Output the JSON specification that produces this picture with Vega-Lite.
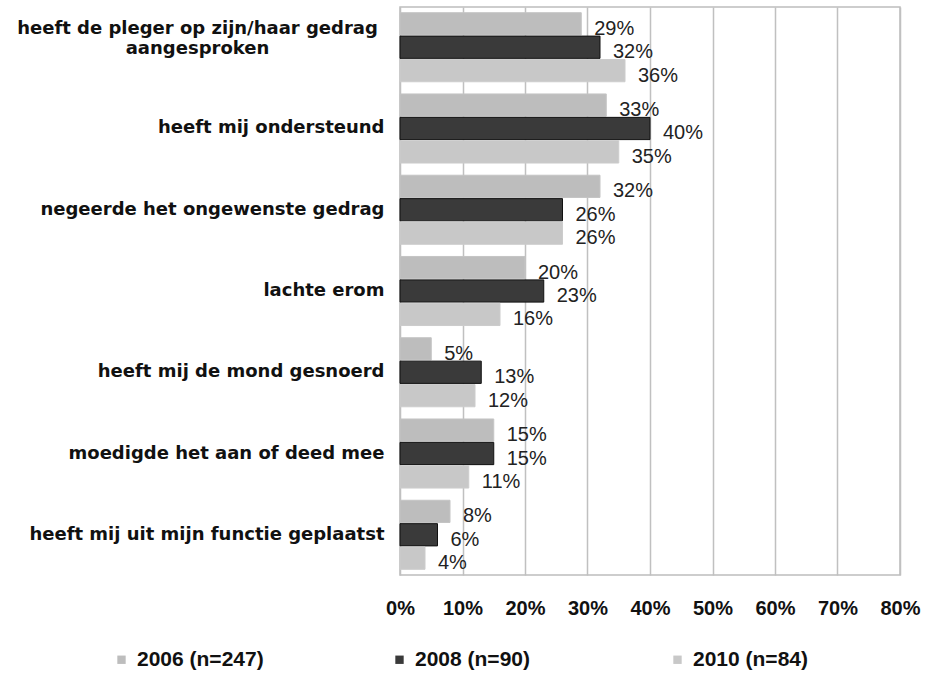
{
  "$schema": "https://vega.github.io/schema/vega-lite/v6.json",
  "autosize": "none",
  "width": 500,
  "height": 568,
  "padding": {"left": 400, "top": 7, "right": 37, "bottom": 100},
  "background": "white",
  "config": {
    "font": "Liberation Sans",
    "view": {"stroke": "#bdbdbd", "strokeWidth": 1.5}
  },
  "data": {
    "values": [
      {"item": "heeft de pleger op zijn/haar gedrag aangesproken", "series": "2006 (n=247)", "pct": 0.29},
      {"item": "heeft de pleger op zijn/haar gedrag aangesproken", "series": "2008 (n=90)", "pct": 0.32},
      {"item": "heeft de pleger op zijn/haar gedrag aangesproken", "series": "2010 (n=84)", "pct": 0.36},
      {"item": "heeft mij ondersteund", "series": "2006 (n=247)", "pct": 0.33},
      {"item": "heeft mij ondersteund", "series": "2008 (n=90)", "pct": 0.40},
      {"item": "heeft mij ondersteund", "series": "2010 (n=84)", "pct": 0.35},
      {"item": "negeerde het ongewenste gedrag", "series": "2006 (n=247)", "pct": 0.32},
      {"item": "negeerde het ongewenste gedrag", "series": "2008 (n=90)", "pct": 0.26},
      {"item": "negeerde het ongewenste gedrag", "series": "2010 (n=84)", "pct": 0.26},
      {"item": "lachte erom", "series": "2006 (n=247)", "pct": 0.20},
      {"item": "lachte erom", "series": "2008 (n=90)", "pct": 0.23},
      {"item": "lachte erom", "series": "2010 (n=84)", "pct": 0.16},
      {"item": "heeft mij de mond gesnoerd", "series": "2006 (n=247)", "pct": 0.05},
      {"item": "heeft mij de mond gesnoerd", "series": "2008 (n=90)", "pct": 0.13},
      {"item": "heeft mij de mond gesnoerd", "series": "2010 (n=84)", "pct": 0.12},
      {"item": "moedigde het aan of deed mee", "series": "2006 (n=247)", "pct": 0.15},
      {"item": "moedigde het aan of deed mee", "series": "2008 (n=90)", "pct": 0.15},
      {"item": "moedigde het aan of deed mee", "series": "2010 (n=84)", "pct": 0.11},
      {"item": "heeft mij uit mijn functie geplaatst", "series": "2006 (n=247)", "pct": 0.08},
      {"item": "heeft mij uit mijn functie geplaatst", "series": "2008 (n=90)", "pct": 0.06},
      {"item": "heeft mij uit mijn functie geplaatst", "series": "2010 (n=84)", "pct": 0.04}
    ]
  },
  "encoding": {
    "y": {
      "field": "item",
      "type": "nominal",
      "sort": null,
      "scale": {"paddingInner": 0.15, "paddingOuter": 0.07},
      "axis": {
        "title": null,
        "ticks": false,
        "domain": false,
        "labelFont": "DejaVu Sans",
        "labelFontSize": 18,
        "labelFontWeight": "bold",
        "labelColor": "#111",
        "labelLimit": 420,
        "labelLineHeight": 20,
        "labelExpr": "datum.value == 'heeft de pleger op zijn/haar gedrag aangesproken' ? ['heeft de pleger op zijn/haar gedrag', 'aangesproken'] : datum.value",
        "labelAlign": {"condition": {"test": "datum.value == 'heeft de pleger op zijn/haar gedrag aangesproken'", "value": "center"}, "value": "right"},
        "labelPadding": {"condition": {"test": "datum.value == 'heeft de pleger op zijn/haar gedrag aangesproken'", "value": 203}, "value": 16},
        "labelOffset": {"condition": {"test": "datum.value == 'heeft de pleger op zijn/haar gedrag aangesproken'", "value": -18}, "value": 0}
      }
    },
    "yOffset": {
      "field": "series",
      "type": "nominal",
      "scale": {"paddingInner": 0.05}
    },
    "x": {
      "field": "pct",
      "type": "quantitative",
      "scale": {"domain": [0, 0.8], "nice": false},
      "axis": {
        "title": null,
        "format": ".0%",
        "values": [0, 0.1, 0.2, 0.3, 0.4, 0.5, 0.6, 0.7, 0.8],
        "ticks": false,
        "domain": false,
        "labelPadding": 23,
        "labelFontSize": 20,
        "labelFontWeight": "bold",
        "labelColor": "#111",
        "labelFlush": false,
        "grid": true,
        "gridColor": "#c0c0c0",
        "gridWidth": 1.5
      }
    }
  },
  "layer": [
    {
      "mark": {"type": "bar", "strokeWidth": 1},
      "encoding": {
        "color": {
          "field": "series",
          "type": "nominal",
          "scale": {
            "domain": ["2006 (n=247)", "2008 (n=90)", "2010 (n=84)"],
            "range": ["#bdbdbd", "#3a3a3a", "#c8c8c8"]
          },
          "legend": {
            "title": null,
            "orient": "none",
            "legendX": -289,
            "legendY": 642,
            "direction": "horizontal",
            "columns": 3,
            "gridAlign": "all",
            "columnPadding": 125,
            "symbolType": "square",
            "symbolSize": 70,
            "symbolStrokeWidth": 0,
            "labelFontSize": 21,
            "labelFontWeight": "bold",
            "labelColor": "#111",
            "labelOffset": 5,
            "labelLimit": 300
          }
        },
        "stroke": {
          "field": "series",
          "type": "nominal",
          "scale": {
            "domain": ["2006 (n=247)", "2008 (n=90)", "2010 (n=84)"],
            "range": ["#c4c4c4", "#111111", "#cccccc"]
          },
          "legend": null
        }
      }
    },
    {
      "mark": {"type": "text", "align": "left", "baseline": "middle", "dx": 13, "dy": 5, "fontSize": 20, "color": "#222"},
      "encoding": {
        "text": {"field": "pct", "type": "quantitative", "format": ".0%"}
      }
    }
  ]
}
